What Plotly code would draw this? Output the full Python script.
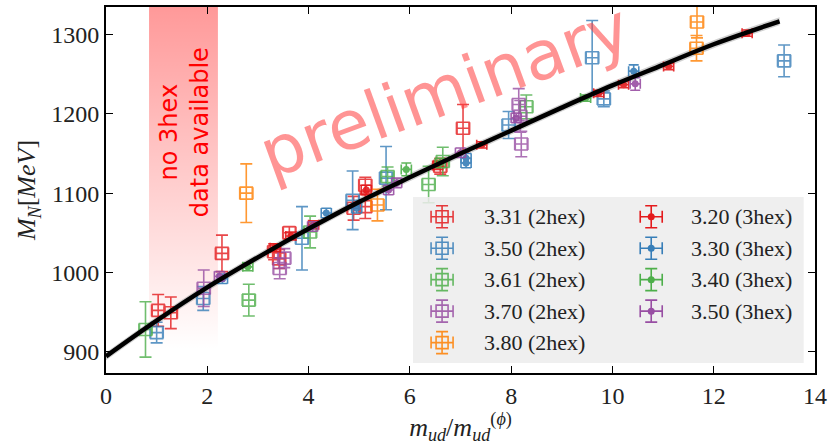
import plotly.graph_objects as go

# ---------------- data ----------------
# 2hex ensembles (open squares): x = m_ud/m_ud^(phi), M = M_N [MeV], E = error in M
R331_X = [1.03, 1.28, 2.29, 3.32, 3.42, 3.62, 4.89, 5.12, 5.12, 6.60, 7.05]
R331_M = [952, 949, 1024, 1026, 1017, 1050, 1081, 1110, 1083, 1134, 1182]
R331_E = [20, 20, 23, 10, 12, 8, 15, 10, 15, 10, 30]

R350_X = [1.00, 1.92, 3.87, 4.87, 5.53, 7.95, 9.60, 9.83, 13.39]
R350_M = [924, 967, 1043, 1091, 1119, 1186, 1271, 1219, 1267]
R350_E = [13, 15, 40, 37, 40, 17, 47, 10, 20]

R361_X = [0.78, 2.82, 4.03, 5.56, 6.37, 6.65, 8.30]
R361_M = [928, 965, 1051, 1121, 1111, 1140, 1209]
R361_E = [35, 20, 20, 12, 23, 18, 15]

R370_X = [1.93, 3.43, 3.52, 8.15, 8.18, 8.20]
R370_M = [980, 1005, 1018, 1212, 1197, 1162]
R370_E = [23, 13, 12, 20, 20, 16]

R380_X = [2.77, 5.36, 11.67, 11.66]
R380_M = [1100, 1085, 1316, 1283]
R380_E = [37, 20, 20, 16]

# 3hex ensembles (filled circles)
T320_X = [3.34, 3.65, 4.10, 5.14, 6.55, 7.42, 9.73, 10.22, 11.11, 12.66]
T320_M = [1031, 1046, 1060, 1104, 1135, 1161, 1226, 1237, 1260, 1302]
T320_E = [5, 5, 5, 6, 5, 4, 4, 4, 4, 4]

T330_X = [2.30, 4.35, 4.95, 7.11, 7.11, 10.42]
T330_M = [992, 1075, 1081, 1144, 1138, 1254]
T330_E = [6, 6, 6, 6, 6, 8]

T340_X = [2.80, 5.93, 6.60, 9.47]
T340_M = [1007, 1130, 1138, 1220]
T340_E = [5, 8, 6, 4]

T350_X = [2.24, 4.08, 5.58, 5.74, 7.00, 8.10, 10.45]
T350_M = [995, 1058, 1104, 1113, 1151, 1195, 1238]
T350_E = [6, 6, 6, 6, 6, 6, 8]

# chiral fit curve
FIT_X = [0, 1, 2, 3, 4, 5, 6, 7, 8, 9, 10, 11, 12, 13.3]
FIT_M = [894, 939, 981, 1019, 1055, 1089, 1120, 1150, 1179, 1208, 1236, 1262, 1288, 1317]
FIT_ERR = 5

# region without 3hex data
BAND_X = [0.85, 2.21]
BAND_Y = [903, 1335]

X_TICKS = [0, 2, 4, 6, 8, 10, 12, 14]
Y_TICKS = [900, 1000, 1100, 1200, 1300]
X_RANGE = [0, 14]
Y_RANGE = [873, 1335]

LABELS_2HEX = ["3.31 (2hex)", "3.50 (2hex)", "3.61 (2hex)", "3.70 (2hex)", "3.80 (2hex)"]
LABELS_3HEX = ["3.20 (3hex)", "3.30 (3hex)", "3.40 (3hex)", "3.50 (3hex)"]
COLORS_2HEX = ["#e41a1c", "#377eb8", "#4daf4a", "#984ea3", "#ff7f00"]
COLORS_3HEX = ["#e41a1c", "#377eb8", "#4daf4a", "#984ea3"]

SERIES_2HEX = [(R331_X, R331_M, R331_E), (R350_X, R350_M, R350_E), (R361_X, R361_M, R361_E),
               (R370_X, R370_M, R370_E), (R380_X, R380_M, R380_E)]
SERIES_3HEX = [(T320_X, T320_M, T320_E), (T330_X, T330_M, T330_E), (T340_X, T340_M, T340_E),
               (T350_X, T350_M, T350_E)]

SERIF = "Liberation Serif"
SANS = "DejaVu Sans"

fig = go.Figure()

# gradient band
fig.add_trace(go.Scatter(
    x=[BAND_X[0], BAND_X[1], BAND_X[1], BAND_X[0], BAND_X[0]],
    y=[BAND_Y[0], BAND_Y[0], BAND_Y[1], BAND_Y[1], BAND_Y[0]],
    mode="lines", line=dict(width=0), fill="toself",
    fillgradient=dict(type="vertical", start=BAND_Y[0], stop=BAND_Y[1],
                      colorscale=[[0, "rgba(255,0,0,0)"], [1, "rgba(255,0,0,0.40)"]]),
    hoverinfo="skip", showlegend=False))

# fit band + fit line
fig.add_trace(go.Scatter(x=FIT_X, y=[m + FIT_ERR for m in FIT_M], mode="lines",
                         line=dict(width=0, shape="spline"), showlegend=False, hoverinfo="skip"))
fig.add_trace(go.Scatter(x=FIT_X, y=[m - FIT_ERR for m in FIT_M], mode="lines",
                         line=dict(width=0, shape="spline"), fill="tonexty",
                         fillcolor="rgba(150,150,150,0.45)", showlegend=False, hoverinfo="skip"))

for (xs, ms, es), col in zip(SERIES_2HEX, COLORS_2HEX):
    fig.add_trace(go.Scatter(
        x=xs, y=ms, mode="markers", opacity=0.8,
        marker=dict(symbol="square-open", size=12, color=col, line=dict(width=1.6, color=col)),
        error_y=dict(type="data", array=es, color=col, thickness=1.6, width=6),
        error_x=dict(type="constant", value=0.13, color=col, thickness=1.6, width=6),
        showlegend=False))

for (xs, ms, es), col in zip(SERIES_3HEX, COLORS_3HEX):
    fig.add_trace(go.Scatter(
        x=xs, y=ms, mode="markers", opacity=0.9,
        marker=dict(symbol="circle", size=7, color=col),
        error_y=dict(type="data", array=es, color=col, thickness=1.6, width=5),
        error_x=dict(type="constant", value=0.1, color=col, thickness=1.6, width=5),
        showlegend=False))

fig.add_trace(go.Scatter(x=FIT_X, y=FIT_M, mode="lines",
                         line=dict(color="black", width=4.5, shape="spline"),
                         showlegend=False, hoverinfo="skip"))

# ---------------- manual legend on an overlay axis (paper-like 0..1) ----------------
LEG_BOX_X = [0.433, 0.984]
LEG_BOX_Y = [0.027, 0.481]
LEG_COL_GLYPH = [0.474, 0.769]
LEG_COL_TEXT = [0.530, 0.822]
LEG_ROW0 = 0.427
LEG_ROW_STEP = 0.086
GX = 11 / 709
GY = 11 / 366

fig.add_trace(go.Scatter(
    x=[LEG_BOX_X[0], LEG_BOX_X[1], LEG_BOX_X[1], LEG_BOX_X[0], LEG_BOX_X[0]],
    y=[LEG_BOX_Y[0], LEG_BOX_Y[0], LEG_BOX_Y[1], LEG_BOX_Y[1], LEG_BOX_Y[0]],
    xaxis="x2", yaxis="y2", mode="lines", line=dict(width=0), fill="toself",
    fillcolor="rgba(236,236,236,0.85)", hoverinfo="skip", showlegend=False))

for i, (lab, col) in enumerate(zip(LABELS_2HEX, COLORS_2HEX)):
    yy = LEG_ROW0 - i * LEG_ROW_STEP
    fig.add_trace(go.Scatter(
        x=[LEG_COL_GLYPH[0]], y=[yy], xaxis="x2", yaxis="y2", mode="markers", opacity=0.85,
        marker=dict(symbol="square-open", size=12, color=col, line=dict(width=1.6, color=col)),
        error_y=dict(type="constant", value=GY, color=col, thickness=1.6, width=6),
        error_x=dict(type="constant", value=GX, color=col, thickness=1.6, width=6),
        showlegend=False, hoverinfo="skip"))
    fig.add_annotation(x=LEG_COL_TEXT[0], y=yy, xref="paper", yref="paper", text=lab,
                       showarrow=False, xanchor="left", yanchor="middle",
                       font=dict(family=SERIF, size=22, color="#222"))

for i, (lab, col) in enumerate(zip(LABELS_3HEX, COLORS_3HEX)):
    yy = LEG_ROW0 - i * LEG_ROW_STEP
    fig.add_trace(go.Scatter(
        x=[LEG_COL_GLYPH[1]], y=[yy], xaxis="x2", yaxis="y2", mode="markers",
        marker=dict(symbol="circle", size=7, color=col),
        error_y=dict(type="constant", value=GY, color=col, thickness=1.6, width=6),
        error_x=dict(type="constant", value=GX, color=col, thickness=1.6, width=6),
        showlegend=False, hoverinfo="skip"))
    fig.add_annotation(x=LEG_COL_TEXT[1], y=yy, xref="paper", yref="paper", text=lab,
                       showarrow=False, xanchor="left", yanchor="middle",
                       font=dict(family=SERIF, size=22, color="#222"))

# texts
fig.add_annotation(x=0.110, y=0.658, xref="paper", yref="paper",
                   text="no 3hex<br>data available", textangle=-90, showarrow=False,
                   xanchor="center", yanchor="middle",
                   font=dict(family=SANS, size=24, color="#ff0000"))
fig.add_annotation(x=0.478, y=0.772, xref="paper", yref="paper",
                   text="preliminary", textangle=-20, showarrow=False,
                   xanchor="center", yanchor="middle",
                   font=dict(family=SANS, size=68, color="rgba(255,60,60,0.55)"))

axis_common = dict(showgrid=False, zeroline=False, ticks="inside", ticklen=7, tickwidth=1.3,
                   tickcolor="black", showline=True, linewidth=2, linecolor="black",
                   mirror="ticks", automargin=False,
                   tickfont=dict(family=SERIF, size=24, color="#222"))

fig.update_layout(
    width=828, height=445,
    margin=dict(l=106, r=13, t=7, b=72),
    paper_bgcolor="white", plot_bgcolor="white",
    showlegend=False,
    xaxis=dict(range=X_RANGE, tickvals=X_TICKS, **axis_common,
               title=dict(text="<i>m</i><sub><i>ud</i></sub>/<i>m</i><sub><i>ud</i></sub><sup>(<i>ϕ</i>)</sup>",
                          font=dict(family=SERIF, size=26, color="#222"), standoff=2)),
    yaxis=dict(range=Y_RANGE, tickvals=Y_TICKS, **axis_common,
               title=dict(text="<i>M</i><sub><i>N</i></sub>[<i>MeV</i>]",
                          font=dict(family=SERIF, size=26, color="#222"), standoff=8)),
    xaxis2=dict(range=[0, 1], overlaying="x", visible=False, fixedrange=True),
    yaxis2=dict(range=[0, 1], overlaying="y", visible=False, fixedrange=True),
)

fig.write_html("out.html", config={"displayModeBar": False},
               post_script="document.body.style.margin='0';document.body.style.overflow='hidden';")
